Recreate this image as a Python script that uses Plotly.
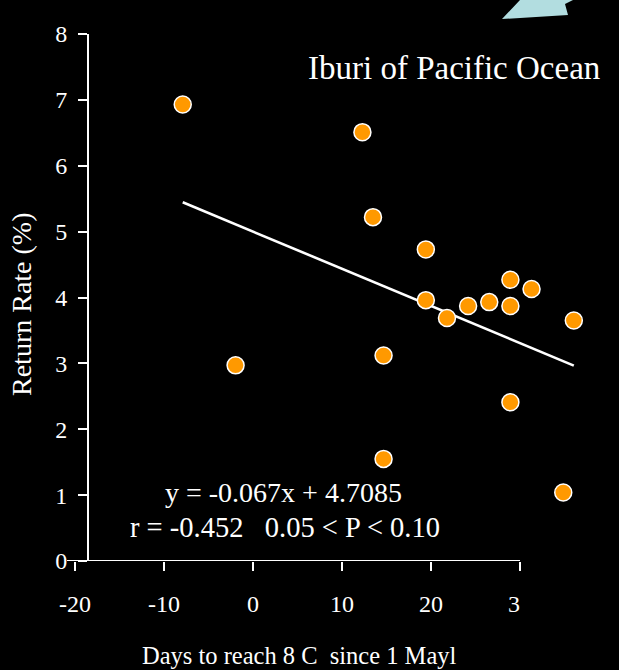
import plotly.graph_objects as go

# ---- data ----
days = [-11, 6, 7, 12, 20, 22, 12, 16, 18, 20, 14, 26, -6, 8, 20, 8, 25]
return_rate = [6.93, 6.51, 5.22, 4.73, 4.27, 4.13, 3.96, 3.87, 3.93, 3.87, 3.69, 3.65,
               2.97, 3.12, 2.41, 1.55, 1.04]
fit_slope = -0.067
fit_intercept = 4.7085
fit_x = [-11, 26]
fit_y = [fit_slope * v + fit_intercept for v in fit_x]
x_ticks = [-20, -10, 0, 10, 20, 30]
y_ticks = [0, 1, 2, 3, 4, 5, 6, 7, 8]

FONT = "Times New Roman, Liberation Serif, serif"
W_, H_ = 619, 670
L, R, T, B = 67, 619, 34, 561
PW, PH = R - L, B - T


def pxx(p):
    return (p - L) / PW


def pxy(p):
    return (B - p) / PH


fig = go.Figure()
fig.add_trace(go.Scatter(x=fit_x, y=fit_y, mode="lines",
                         line=dict(color="white", width=2.6), hoverinfo="skip",
                         showlegend=False))
fig.add_trace(go.Scatter(x=days, y=return_rate, mode="markers",
                         marker=dict(size=17, color="#FF9900",
                                     line=dict(color="white", width=1.5)),
                         showlegend=False))

# data axis: x=0 at px 299, 10.57 px/unit
sc = 10.57
x0 = 299
fig.update_layout(
    width=W_, height=H_,
    margin=dict(l=L, r=W_ - R, t=T, b=H_ - B, pad=0),
    paper_bgcolor="black", plot_bgcolor="black",
    font=dict(family=FONT, color="white"),
    xaxis=dict(range=[(L - x0) / sc, (R - x0) / sc], visible=False,
               domain=[0, 1]),
    xaxis2=dict(overlaying="x", side="bottom", anchor="y",
                range=[-20 - 8 / 8.9, -20 + (R - 75) / 8.9],
                tickvals=x_ticks, ticktext=[str(v) for v in x_ticks],
                ticks="outside", ticklen=9, tickwidth=2, tickcolor="white",
                showline=False, showgrid=False, zeroline=False,
                tickfont=dict(size=24, color="white", family=FONT),
                ticklabelstandoff=12),
    yaxis=dict(range=[0, 8], tickvals=y_ticks, anchor="free",
               position=pxx(88),
               ticks="outside", ticklen=9, tickwidth=2, tickcolor="white",
               showline=True, linecolor="white", linewidth=2,
               showgrid=False, zeroline=False,
               tickfont=dict(size=24, color="white", family=FONT),
               ticklabelstandoff=6),
)
# invisible helper trace so xaxis2 is drawn
fig.add_trace(go.Scatter(x=[0], y=[0], xaxis="x2", mode="markers",
                         marker=dict(opacity=0), hoverinfo="skip",
                         showlegend=False))

shapes = [
    # x axis line (visible axis)
    dict(type="line", xref="x2", yref="y", x0=-20 - 8 / 8.9, x1=30, y0=0, y1=0,
         line=dict(color="white", width=2), layer="above"),
    # arrow piece at top right
    dict(type="path", xref="paper", yref="paper",
         path=f"M {pxx(520)},{pxy(0)} L {pxx(502)},{pxy(19)} L {pxx(568)},{pxy(15)} "
              f"L {pxx(565)},{pxy(4)} L {pxx(573)},{pxy(0)} Z",
         fillcolor="#B2DDE0", line=dict(width=0), layer="above"),
    # clipped tick label region beyond x=30
    dict(type="rect", xref="paper", yref="paper",
         x0=pxx(520), x1=pxx(640), y0=pxy(630), y1=pxy(575),
         fillcolor="black", line=dict(width=0), layer="above"),
]
fig.update_layout(shapes=shapes)

ann = [
    dict(text="Iburi of Pacific Ocean", x=pxx(306), y=pxy(68), xanchor="left",
         yanchor="middle", font=dict(size=33)),
    dict(text="y = -0.067x + 4.7085", x=pxx(283), y=pxy(492), xanchor="center",
         yanchor="middle", font=dict(size=28)),
    dict(text="r = -0.452\u00a0\u00a0\u00a00.05 < P < 0.10", x=pxx(285), y=pxy(527),
         xanchor="center", yanchor="middle", font=dict(size=28.5)),
    dict(text="Return Rate (%)", x=pxx(21), y=pxy(304), textangle=-90,
         xanchor="center", yanchor="middle", font=dict(size=28)),
    dict(text="Days to reach 8 C\u00a0\u00a0since 1 Mayl", x=pxx(299), y=pxy(655),
         xanchor="center", yanchor="middle", font=dict(size=24.5)),
]
for a in ann:
    a.update(xref="paper", yref="paper", showarrow=False)
    a["font"].update(family=FONT, color="white")
fig.update_layout(annotations=ann)

fig.write_html(
    "out.html",
    config={"displayModeBar": False},
    post_script="document.body.style.margin='0';document.body.style.background='black';",
)
